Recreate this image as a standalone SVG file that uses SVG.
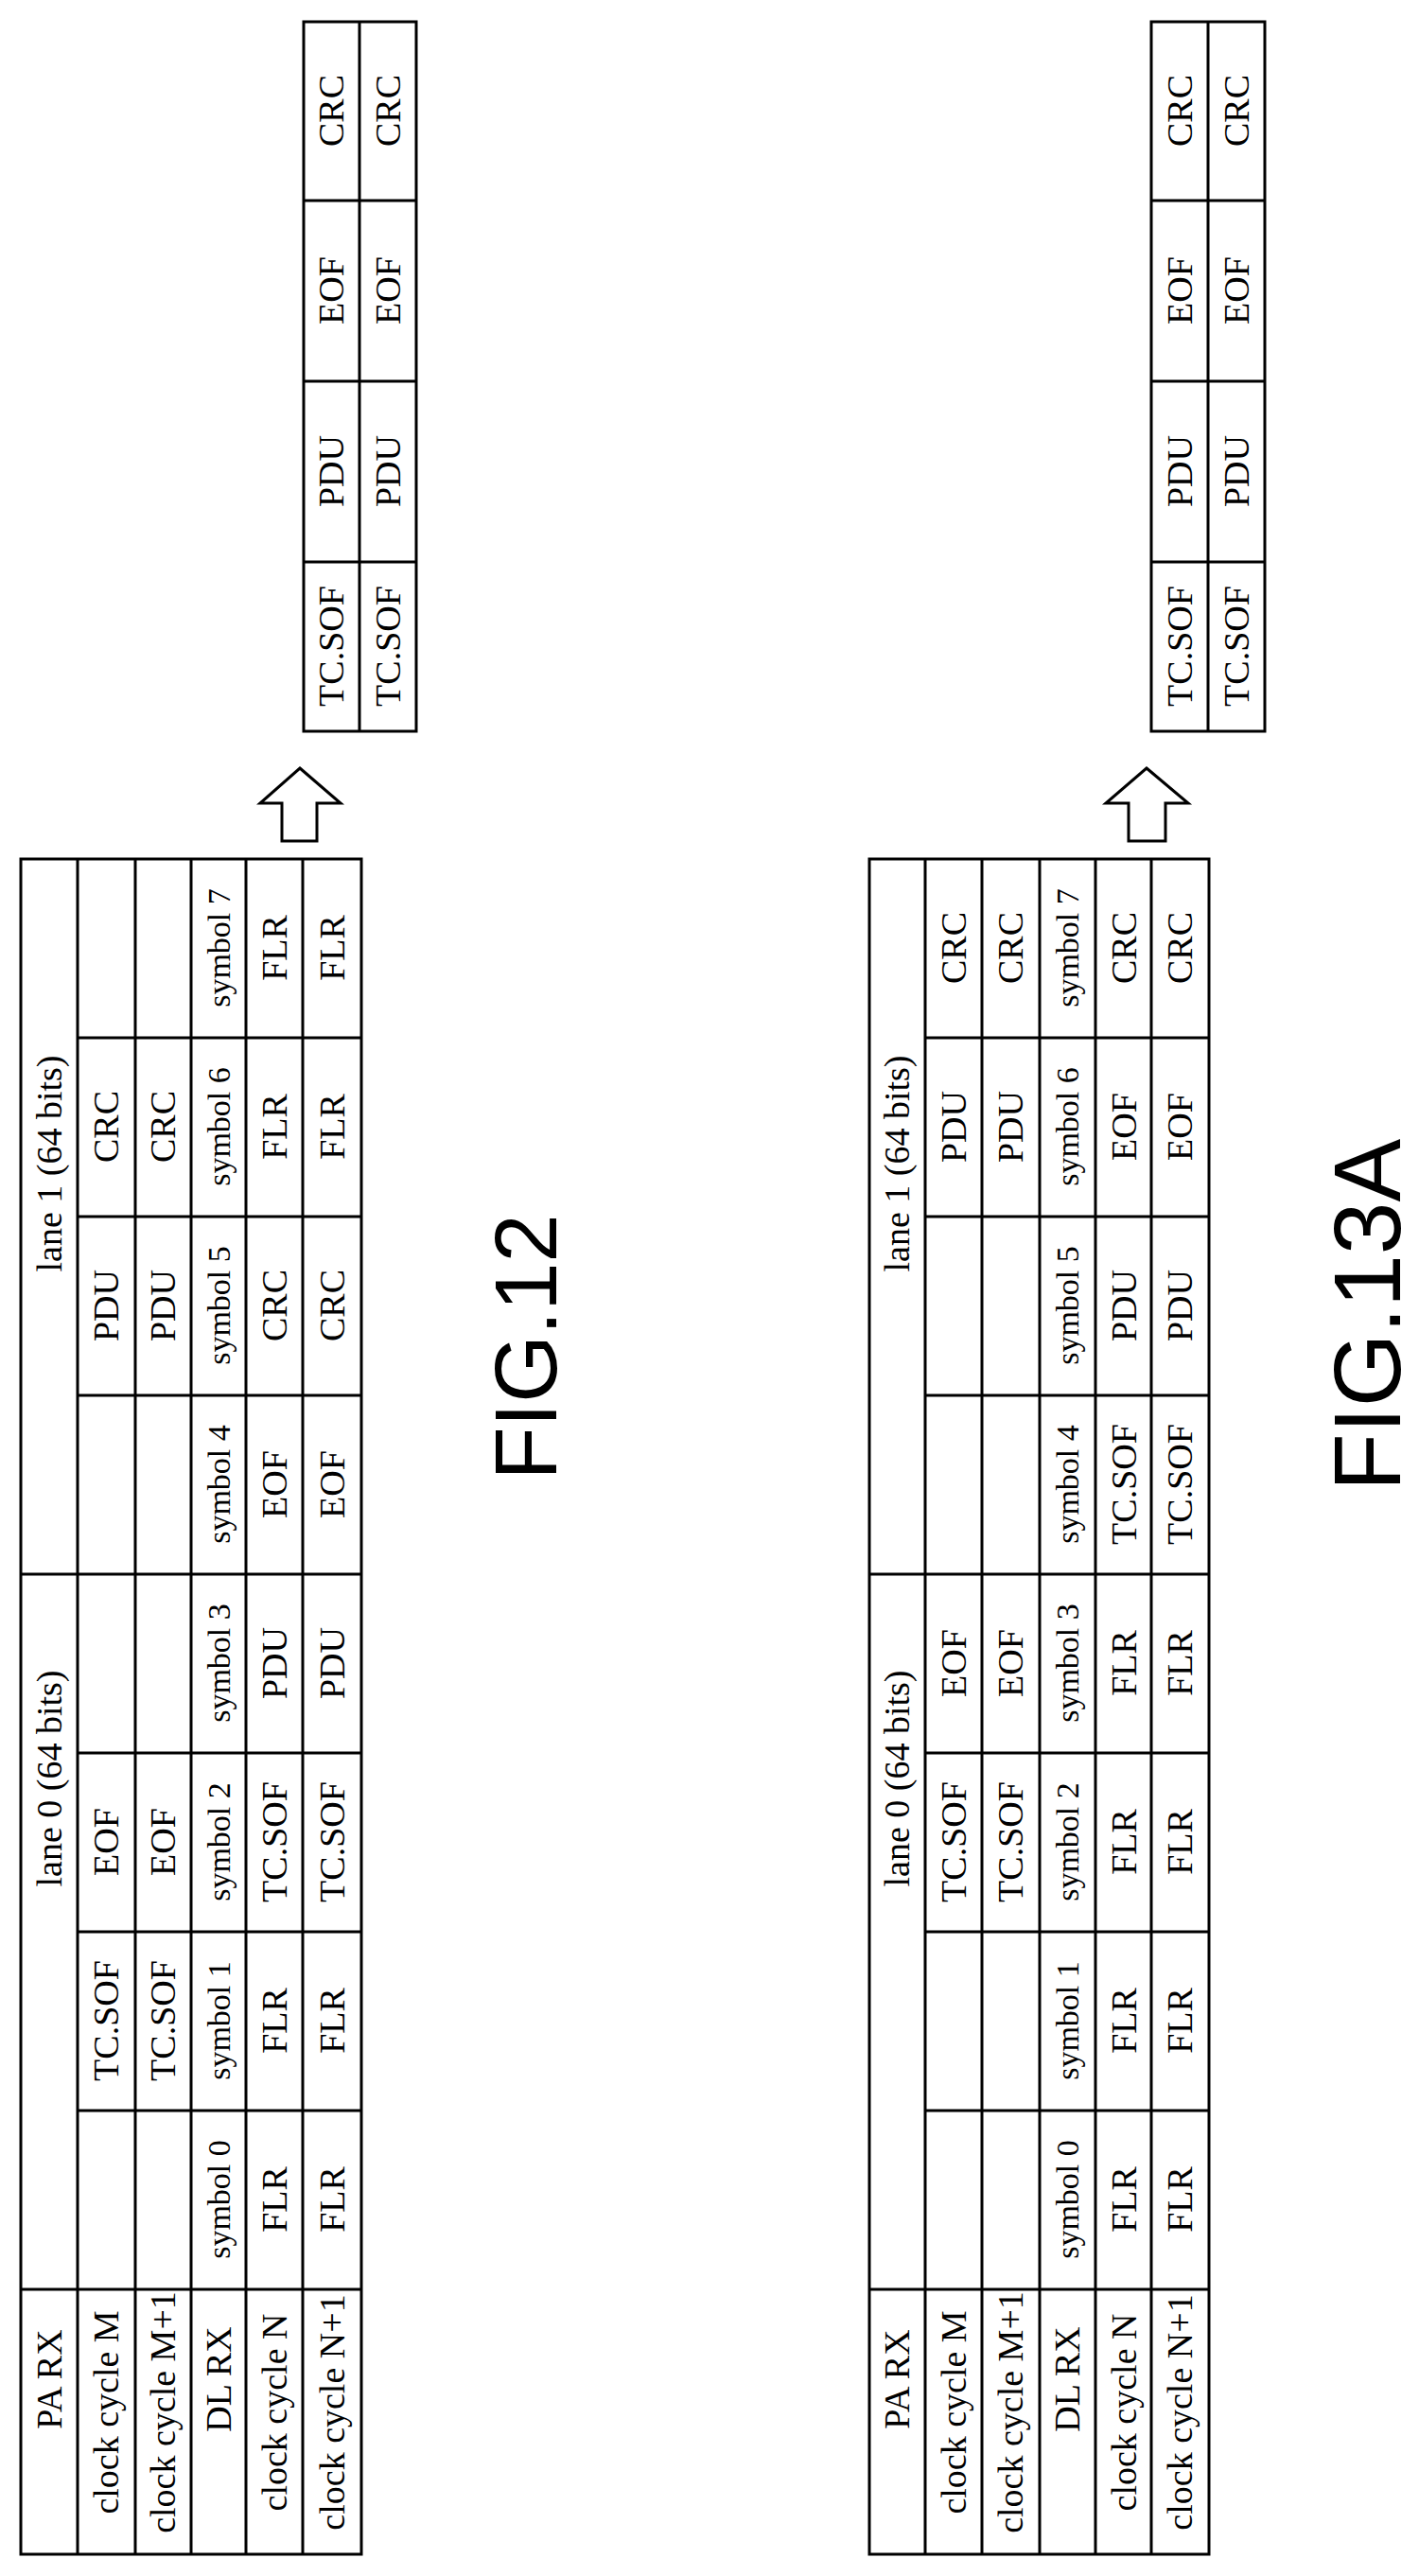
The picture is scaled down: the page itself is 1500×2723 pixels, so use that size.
<svg xmlns="http://www.w3.org/2000/svg" width="1500" height="2723" viewBox="0 0 1500 2723">
<style>
.g{fill:none;stroke:#000;stroke-width:3}
.t{font-family:"Liberation Serif","Times New Roman",serif;font-size:38px;fill:#000;text-anchor:middle;dominant-baseline:central}
.s{font-size:34px}
.f{font-family:"Liberation Sans",Arial,sans-serif;font-size:92px;fill:#000;text-anchor:middle;dominant-baseline:central}
</style>
<rect width="1500" height="2723" fill="#fff"/>
<g id="fig12-table">
<rect class="g" x="22" y="908" width="360" height="1792"/>
<path class="g" d="M82 908V2700M143 908V2700M202 908V2700M260 908V2700M320 908V2700"/>
<path class="g" d="M22 1664H382M22 2420H382M82 1097H382M82 1286H382M82 1475H382M82 1853H382M82 2042H382M82 2231H382"/>
<text class="t" transform="translate(52,1230) rotate(-90)">lane 1 (64 bits)</text>
<text class="t" transform="translate(52,1880) rotate(-90)">lane 0 (64 bits)</text>
<text class="t" transform="translate(52,2515) rotate(-90)">PA RX</text>
<text class="t" transform="translate(112,2550) rotate(-90)">clock cycle M</text>
<text class="t" transform="translate(172,2550) rotate(-90)">clock cycle M+1</text>
<text class="t" transform="translate(231,2515) rotate(-90)">DL RX</text>
<text class="t" transform="translate(290,2550) rotate(-90)">clock cycle N</text>
<text class="t" transform="translate(351,2550) rotate(-90)">clock cycle N+1</text>
<text class="t" transform="translate(112,2136) rotate(-90)">TC.SOF</text>
<text class="t" transform="translate(112,1947) rotate(-90)">EOF</text>
<text class="t" transform="translate(112,1380) rotate(-90)">PDU</text>
<text class="t" transform="translate(112,1191) rotate(-90)">CRC</text>
<text class="t" transform="translate(172,2136) rotate(-90)">TC.SOF</text>
<text class="t" transform="translate(172,1947) rotate(-90)">EOF</text>
<text class="t" transform="translate(172,1380) rotate(-90)">PDU</text>
<text class="t" transform="translate(172,1191) rotate(-90)">CRC</text>
<text class="t s" transform="translate(231,2325) rotate(-90)">symbol 0</text>
<text class="t s" transform="translate(231,2136) rotate(-90)">symbol 1</text>
<text class="t s" transform="translate(231,1947) rotate(-90)">symbol 2</text>
<text class="t s" transform="translate(231,1758) rotate(-90)">symbol 3</text>
<text class="t s" transform="translate(231,1569) rotate(-90)">symbol 4</text>
<text class="t s" transform="translate(231,1380) rotate(-90)">symbol 5</text>
<text class="t s" transform="translate(231,1191) rotate(-90)">symbol 6</text>
<text class="t s" transform="translate(231,1002) rotate(-90)">symbol 7</text>
<text class="t" transform="translate(290,2325) rotate(-90)">FLR</text>
<text class="t" transform="translate(290,2136) rotate(-90)">FLR</text>
<text class="t" transform="translate(290,1947) rotate(-90)">TC.SOF</text>
<text class="t" transform="translate(290,1758) rotate(-90)">PDU</text>
<text class="t" transform="translate(290,1569) rotate(-90)">EOF</text>
<text class="t" transform="translate(290,1380) rotate(-90)">CRC</text>
<text class="t" transform="translate(290,1191) rotate(-90)">FLR</text>
<text class="t" transform="translate(290,1002) rotate(-90)">FLR</text>
<text class="t" transform="translate(351,2325) rotate(-90)">FLR</text>
<text class="t" transform="translate(351,2136) rotate(-90)">FLR</text>
<text class="t" transform="translate(351,1947) rotate(-90)">TC.SOF</text>
<text class="t" transform="translate(351,1758) rotate(-90)">PDU</text>
<text class="t" transform="translate(351,1569) rotate(-90)">EOF</text>
<text class="t" transform="translate(351,1380) rotate(-90)">CRC</text>
<text class="t" transform="translate(351,1191) rotate(-90)">FLR</text>
<text class="t" transform="translate(351,1002) rotate(-90)">FLR</text>
</g>
<g id="fig12-result">
<rect class="g" x="321" y="23" width="119" height="750"/>
<path class="g" d="M380 23V773M321 212H440M321 403H440M321 594H440"/>
<text class="t" transform="translate(350,683) rotate(-90)">TC.SOF</text>
<text class="t" transform="translate(350,498) rotate(-90)">PDU</text>
<text class="t" transform="translate(350,307) rotate(-90)">EOF</text>
<text class="t" transform="translate(350,117) rotate(-90)">CRC</text>
<text class="t" transform="translate(410,683) rotate(-90)">TC.SOF</text>
<text class="t" transform="translate(410,498) rotate(-90)">PDU</text>
<text class="t" transform="translate(410,307) rotate(-90)">EOF</text>
<text class="t" transform="translate(410,117) rotate(-90)">CRC</text>
</g>
<g id="fig13a-table">
<rect class="g" x="919" y="908" width="359" height="1792"/>
<path class="g" d="M978 908V2700M1038 908V2700M1099 908V2700M1158 908V2700M1217 908V2700"/>
<path class="g" d="M919 1664H1278M919 2420H1278M978 1097H1278M978 1286H1278M978 1475H1278M978 1853H1278M978 2042H1278M978 2231H1278"/>
<text class="t" transform="translate(948,1230) rotate(-90)">lane 1 (64 bits)</text>
<text class="t" transform="translate(948,1880) rotate(-90)">lane 0 (64 bits)</text>
<text class="t" transform="translate(948,2515) rotate(-90)">PA RX</text>
<text class="t" transform="translate(1008,2550) rotate(-90)">clock cycle M</text>
<text class="t" transform="translate(1068,2550) rotate(-90)">clock cycle M+1</text>
<text class="t" transform="translate(1128,2515) rotate(-90)">DL RX</text>
<text class="t" transform="translate(1188,2550) rotate(-90)">clock cycle N</text>
<text class="t" transform="translate(1247,2550) rotate(-90)">clock cycle N+1</text>
<text class="t" transform="translate(1008,1947) rotate(-90)">TC.SOF</text>
<text class="t" transform="translate(1008,1758) rotate(-90)">EOF</text>
<text class="t" transform="translate(1008,1191) rotate(-90)">PDU</text>
<text class="t" transform="translate(1008,1002) rotate(-90)">CRC</text>
<text class="t" transform="translate(1068,1947) rotate(-90)">TC.SOF</text>
<text class="t" transform="translate(1068,1758) rotate(-90)">EOF</text>
<text class="t" transform="translate(1068,1191) rotate(-90)">PDU</text>
<text class="t" transform="translate(1068,1002) rotate(-90)">CRC</text>
<text class="t s" transform="translate(1128,2325) rotate(-90)">symbol 0</text>
<text class="t s" transform="translate(1128,2136) rotate(-90)">symbol 1</text>
<text class="t s" transform="translate(1128,1947) rotate(-90)">symbol 2</text>
<text class="t s" transform="translate(1128,1758) rotate(-90)">symbol 3</text>
<text class="t s" transform="translate(1128,1569) rotate(-90)">symbol 4</text>
<text class="t s" transform="translate(1128,1380) rotate(-90)">symbol 5</text>
<text class="t s" transform="translate(1128,1191) rotate(-90)">symbol 6</text>
<text class="t s" transform="translate(1128,1002) rotate(-90)">symbol 7</text>
<text class="t" transform="translate(1188,2325) rotate(-90)">FLR</text>
<text class="t" transform="translate(1188,2136) rotate(-90)">FLR</text>
<text class="t" transform="translate(1188,1947) rotate(-90)">FLR</text>
<text class="t" transform="translate(1188,1758) rotate(-90)">FLR</text>
<text class="t" transform="translate(1188,1569) rotate(-90)">TC.SOF</text>
<text class="t" transform="translate(1188,1380) rotate(-90)">PDU</text>
<text class="t" transform="translate(1188,1191) rotate(-90)">EOF</text>
<text class="t" transform="translate(1188,1002) rotate(-90)">CRC</text>
<text class="t" transform="translate(1247,2325) rotate(-90)">FLR</text>
<text class="t" transform="translate(1247,2136) rotate(-90)">FLR</text>
<text class="t" transform="translate(1247,1947) rotate(-90)">FLR</text>
<text class="t" transform="translate(1247,1758) rotate(-90)">FLR</text>
<text class="t" transform="translate(1247,1569) rotate(-90)">TC.SOF</text>
<text class="t" transform="translate(1247,1380) rotate(-90)">PDU</text>
<text class="t" transform="translate(1247,1191) rotate(-90)">EOF</text>
<text class="t" transform="translate(1247,1002) rotate(-90)">CRC</text>
</g>
<g id="fig13a-result">
<rect class="g" x="1217" y="23" width="120" height="750"/>
<path class="g" d="M1277 23V773M1217 212H1337M1217 403H1337M1217 594H1337"/>
<text class="t" transform="translate(1247,683) rotate(-90)">TC.SOF</text>
<text class="t" transform="translate(1247,498) rotate(-90)">PDU</text>
<text class="t" transform="translate(1247,307) rotate(-90)">EOF</text>
<text class="t" transform="translate(1247,117) rotate(-90)">CRC</text>
<text class="t" transform="translate(1307,683) rotate(-90)">TC.SOF</text>
<text class="t" transform="translate(1307,498) rotate(-90)">PDU</text>
<text class="t" transform="translate(1307,307) rotate(-90)">EOF</text>
<text class="t" transform="translate(1307,117) rotate(-90)">CRC</text>
</g>
<g id="connectors">
<polygon class="g" stroke-width="2" points="317,812 360,849 335,849 335,889 298,889 298,849 275,849"/>
<polygon class="g" stroke-width="2" points="1212,812 1256,849 1232,849 1232,889 1193,889 1193,849 1169,849"/>
</g>
<g id="labels">
<text class="f" transform="translate(556,1424) rotate(-90)">FIG.12</text>
<text class="f" font-size="100" transform="translate(1445,1390) rotate(-90)" style="font-size:100px">FIG.13A</text>
</g>
</svg>
